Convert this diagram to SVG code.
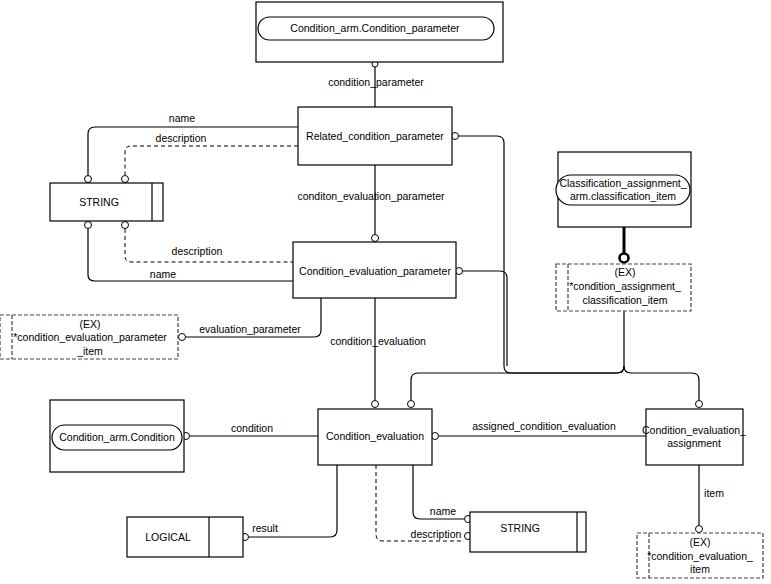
<svg xmlns="http://www.w3.org/2000/svg" width="771" height="584" viewBox="0 0 771 584">
<style>
text{font-family:"Liberation Sans",Arial,sans-serif;font-size:10.5px;fill:#000;text-anchor:middle}
.b{fill:#fff;stroke:#000;stroke-width:1.2}
.x{fill:#fff;stroke:#444;stroke-width:1.2;stroke-dasharray:4,2}
.l{fill:none;stroke:#000;stroke-width:1.2}
.d{fill:none;stroke:#000;stroke-width:1;stroke-dasharray:4,3}
.c{fill:#fff;stroke:#000;stroke-width:1}
</style>
<rect width="771" height="584" fill="#fff"/>
<g id="connectors">
<path class="l" d="M375,66V107"/>
<path class="l" d="M298,127H95Q88,127 88,134V175"/>
<path class="d" d="M298,146H131Q125,146 125,152V175"/>
<path class="d" d="M125,229V256Q125,262 131,262H293"/>
<path class="l" d="M88,229V275Q88,281 95,281H293"/>
<path class="l" d="M375,165V234"/>
<path class="l" d="M375,298V400"/>
<path class="l" d="M186,337H314Q321,337 321,330V298"/>
<path class="l" d="M459,136H497Q504,136 504,143V366Q504,373 511,373H617Q624,373 624,366"/>
<path class="l" d="M463,271H500Q507,271 507,278V366"/>
<path class="l" d="M624,311V366Q624,373 617,373H418Q411,373 411,380V400"/>
<path class="l" d="M624,366Q624,373 631,373H692Q699,373 699,380V400"/>
<path class="l" style="stroke-width:3" d="M624,227V254"/>
<path class="l" d="M190,436H318"/>
<path class="l" d="M439,436H646"/>
<path class="l" d="M249,537H330Q337,537 337,530V465"/>
<path class="l" d="M413,465V512Q413,519 420,519H464"/>
<path class="d" d="M376,465V534Q376,541 383,541H464"/>
<path class="l" d="M699,465V525"/>
<circle class="c" cx="375" cy="64" r="3"/>
<circle class="c" cx="88" cy="179" r="3.5"/><circle class="c" cx="125" cy="179" r="3.5"/>
<circle class="c" cx="88" cy="225" r="3.5"/><circle class="c" cx="125" cy="225" r="3.5"/>
<circle class="c" cx="375" cy="238" r="3.5"/>
<circle class="c" cx="455" cy="136" r="3.5"/>
<circle class="c" cx="459" cy="271" r="3.5"/>
<circle class="c" cx="182" cy="337" r="3.5"/>
<circle class="c" cx="375" cy="404" r="3.5"/><circle class="c" cx="411" cy="404" r="3.5"/>
<circle class="c" cx="699" cy="404" r="3.5"/>
<circle class="c" cx="624" cy="258" r="4.5" style="stroke-width:2.6"/>
<circle class="c" cx="186" cy="436" r="3.5"/>
<circle class="c" cx="435" cy="436" r="3.5"/>
<circle class="c" cx="245" cy="537" r="3.5"/>
<circle class="c" cx="468" cy="519" r="3.5"/><circle class="c" cx="468" cy="536" r="3.5"/>
<circle class="c" cx="699" cy="529" r="3.5"/>
<text x="376" y="86">condition_parameter</text>
<text x="182" y="122">name</text>
<text x="181" y="142">description</text>
<text x="197" y="255">description</text>
<text x="163" y="278">name</text>
<text x="371" y="200">conditon_evaluation_parameter</text>
<text x="250" y="333">evaluation_parameter</text>
<text x="378" y="345">condition_evaluation</text>
<text x="252" y="432">condition</text>
<text x="544" y="430">assigned_condition_evaluation</text>
<text x="265" y="532">result</text>
<text x="443" y="515">name</text>
<text x="436" y="538">description</text>
<text x="714" y="497">item</text>
</g>
<g id="top"><rect class="b" x="256" y="2" width="247" height="60"/><rect class="b" x="258" y="17" width="236" height="23" rx="11.5"/><text x="375" y="32">Condition_arm.Condition_parameter</text></g>
<g id="related"><rect class="b" x="298" y="107" width="154" height="58"/><text x="375" y="140">Related_condition_parameter</text></g>
<g id="string1"><rect class="b" x="50" y="183" width="113" height="38"/><path class="l" d="M152,183V221"/><text x="99" y="206">STRING</text></g>
<g id="cep"><rect class="b" x="293" y="242" width="163" height="56"/><text x="375" y="275">Condition_evaluation_parameter</text></g>
<g id="excep"><rect class="x" x="0" y="315" width="178" height="44"/><path class="x" d="M12,315V359"/><text x="90" y="328">(EX)</text><text x="90" y="341">*condition_evaluation_parameter</text><text x="90" y="355">_item</text></g>
<g id="classif"><rect class="b" x="558" y="152" width="133" height="75"/><rect class="b" x="556" y="175" width="134" height="30" rx="15"/><text x="623" y="187">Classification_assignment_</text><text x="623" y="200">arm.classification_item</text></g>
<g id="excas"><rect class="x" x="556" y="264" width="135" height="47"/><path class="x" d="M568,264V311"/><text x="625" y="276">(EX)</text><text x="625" y="290">*condition_assignment_</text><text x="625" y="304">classification_item</text></g>
<g id="cond"><rect class="b" x="50" y="400" width="134" height="72"/><rect class="b" x="52" y="425" width="130" height="25" rx="12.5"/><text x="117" y="441">Condition_arm.Condition</text></g>
<g id="ce"><rect class="b" x="318" y="409" width="114" height="56"/><text x="375" y="440">Condition_evaluation</text></g>
<g id="cea"><rect class="b" x="646" y="409" width="97" height="56"/><text x="694" y="434">Condition_evaluation_</text><text x="694" y="447">assignment</text></g>
<g id="logical"><rect class="b" x="127" y="517" width="116" height="40"/><path class="l" d="M209,517V557"/><text x="168" y="541">LOGICAL</text></g>
<g id="string2"><rect class="b" x="470" y="512" width="116" height="40"/><path class="l" d="M577,512V552"/><text x="520" y="532">STRING</text></g>
<g id="excei"><rect class="x" x="637" y="533" width="126" height="45"/><path class="x" d="M649,533V578"/><text x="700" y="546">(EX)</text><text x="700" y="560">*condition_evaluation_</text><text x="700" y="573">item</text></g>
</svg>
